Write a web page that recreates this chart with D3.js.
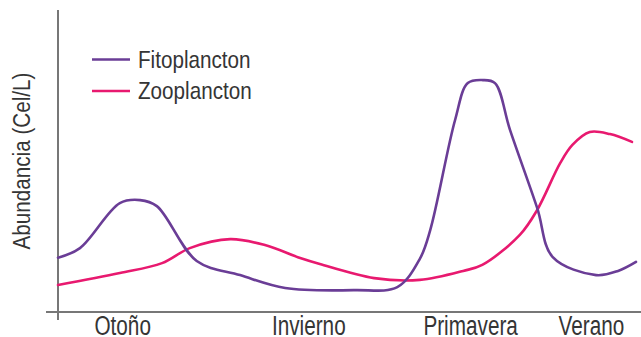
<!DOCTYPE html>
<html>
<head>
<meta charset="utf-8">
<script src="https://cdn.jsdelivr.net/npm/d3@7"></script>
<style>
  html, body { margin: 0; padding: 0; background: #fff; }
  svg { display: block; }
  text { font-family: "Liberation Sans", Arial, sans-serif; fill: #353535; }
</style>
</head>
<body>
<svg id="chart" width="641" height="337"></svg>
<script>
// ---- data (time index 0-100 across the year, abundance in relative units 0-100) ----
const fitoT = [0, 3.8, 10.7, 14.2, 17.1, 24.0, 31.5, 39.3, 51.4, 58.7, 62.6, 64.4, 68.7, 70.9, 73.5, 75.6, 78.2, 82.9, 85.6, 93.1, 96.9, 100];
const fitoV = [18.1, 21.3, 36.3, 37.3, 35.3, 17, 12.3, 8, 7.3, 8.3, 17.7, 27.3, 64, 76.3, 77.3, 76.3, 60.7, 34.7, 18.3, 12.3, 13.7, 16.7];
const zooT = [0, 10.7, 18, 22.8, 29.8, 35.8, 41.9, 45.3, 54.7, 62.6, 70.1, 73.4, 79.9, 82.9, 86.9, 89, 92, 95.5, 99.3];
const zooV = [9, 13, 16.3, 21.3, 24.3, 22.3, 18, 16, 11.3, 10.7, 13.7, 15.7, 25.7, 34, 49.7, 55.7, 60, 59.3, 56.7];
const seasons = ["Otoño", "Invierno", "Primavera", "Verano"];
const seasonT = [11.1, 43.3, 71.3, 92.2];
const seriesNames = ["Fitoplancton", "Zooplancton"];
const seriesColors = ["#6a3d96", "#e8196f"];
const yLabel = "Abundancia (Cel/L)";

// ---- layout ----
const W = 641, H = 337;
const m = { left: 58, right: 5, top: 12, bottom: 25 };
const FS = 24.6, NARROW = 0.84;
const XFS = 27, XNARROW = 0.768;
const svg = d3.select("#chart");
const x = d3.scaleLinear().domain([0, 100]).range([m.left, W - m.right]);
const y = d3.scaleLinear().domain([0, 100]).range([H - m.bottom, m.top]);

function condense(factor) {
  return sel => sel.each(function () {
    const w = this.getComputedTextLength();
    d3.select(this).attr("textLength", w * factor).attr("lengthAdjust", "spacingAndGlyphs");
  });
}

// axes lines
const axisColor = "#777";
svg.append("line")
  .attr("x1", m.left - 12).attr("x2", W)
  .attr("y1", y(0)).attr("y2", y(0))
  .attr("stroke", axisColor).attr("stroke-width", 2);
svg.append("line")
  .attr("x1", m.left).attr("x2", m.left)
  .attr("y1", y(100) - 2).attr("y2", y(0) + 8)
  .attr("stroke", axisColor).attr("stroke-width", 2);

// x tick labels via axis
const xAxis = d3.axisBottom(x)
  .tickValues(seasonT)
  .tickFormat((d, i) => seasons[i])
  .tickSize(0).tickPadding(0);
const gx = svg.append("g").attr("transform", `translate(0,${y(0)})`).call(xAxis);
gx.select(".domain").remove();
gx.selectAll("text")
  .attr("dy", null).attr("y", H - 2 - y(0))
  .attr("font-size", XFS).attr("fill", "#353535")
  .style("font-family", "'Liberation Sans', Arial, sans-serif")
  .call(condense(XNARROW));

// y label
svg.append("text")
  .attr("transform", `translate(30,${(y(100) + y(0)) / 2 - 1}) rotate(-90)`)
  .attr("text-anchor", "middle")
  .attr("font-size", FS)
  .text(yLabel)
  .call(condense(NARROW));

// lines
const line = d3.line().curve(d3.curveCatmullRom.alpha(0.5));
const series = [
  fitoT.map((t, i) => [x(t), y(fitoV[i])]),
  zooT.map((t, i) => [x(t), y(zooV[i])])
];
[1, 0].forEach(k => {
  svg.append("path")
    .attr("d", line(series[k]))
    .attr("fill", "none")
    .attr("stroke", seriesColors[k])
    .attr("stroke-width", 2.6)
    .attr("stroke-linejoin", "round")
    .attr("stroke-linecap", "round");
});

// legend
const leg = svg.append("g").attr("transform", "translate(92,67.5)");
seriesNames.forEach((name, i) => {
  const g = leg.append("g").attr("transform", `translate(0,${i * 31.5})`);
  g.append("line").attr("x1", 0).attr("x2", 38).attr("y1", -8).attr("y2", -8)
    .attr("stroke", seriesColors[i]).attr("stroke-width", 2.6);
  g.append("text").attr("x", 46).attr("y", 0).attr("font-size", FS).text(name).call(condense(NARROW));
});
</script>
</body>
</html>
